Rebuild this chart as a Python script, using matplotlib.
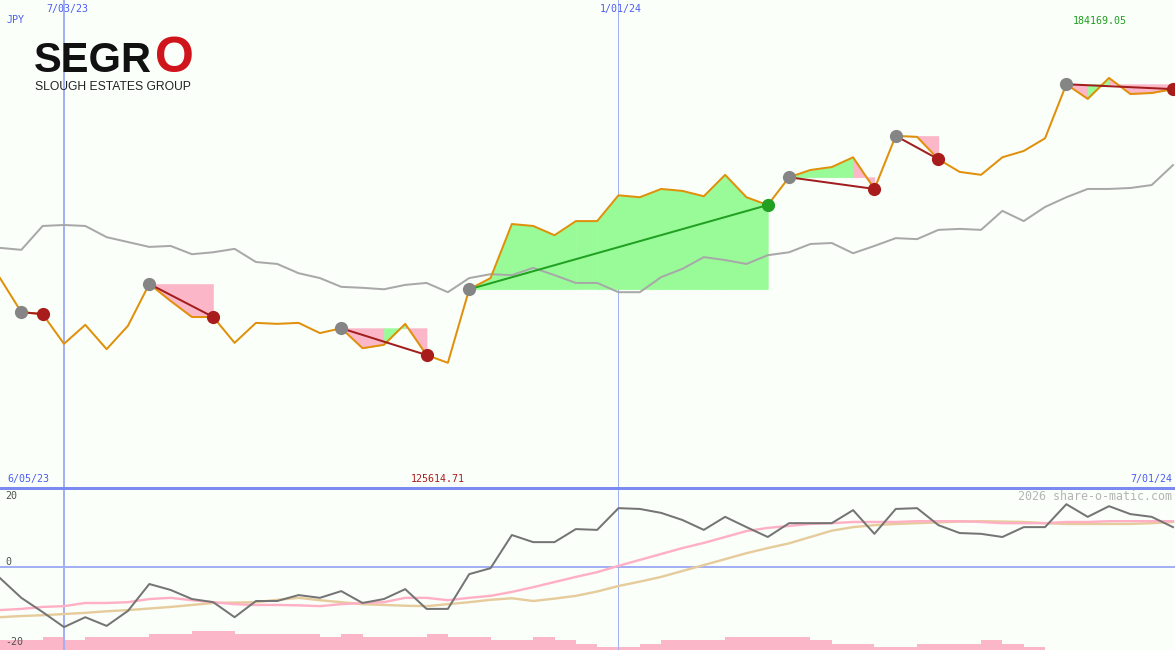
"""
SEGRO (JPY) weekly chart with trade overlay and momentum panel, share-o-matic style.

Output:
    out.png
"""
import matplotlib

matplotlib.use("Agg")
import matplotlib.pyplot as plt
import numpy as np

W, H = 1175, 650
DPI = 100

# weekly closes (thousands JPY) and benchmark on the same scale
price = [142.9, 135.9, 135.5, 129.4, 133.3, 128.3, 133.1, 141.7, 138.2, 134.9,
         134.9, 129.6, 133.7, 133.5, 133.7, 131.6, 132.6, 128.5, 129.2, 133.5,
         127.1, 125.5, 140.6, 142.9, 154.0, 153.6, 151.7, 154.6, 154.6, 159.9,
         159.5, 161.2, 160.8, 159.7, 164.1, 159.5, 157.9, 163.6, 165.1, 165.7,
         167.7, 161.2, 172.1, 171.9, 167.3, 164.7, 164.1, 167.7, 169.0, 171.6,
         182.7, 179.7, 184.0, 180.7, 180.9, 181.7]
bench = [149.1, 148.7, 153.6, 153.8, 153.6, 151.3, 150.3, 149.3, 149.5, 147.8,
         148.2, 148.9, 146.2, 145.8, 143.9, 142.9, 141.1, 140.9, 140.6, 141.5,
         141.9, 140.0, 142.9, 143.7, 143.5, 145.0, 143.5, 141.9, 141.9, 140.0,
         140.0, 143.1, 144.8, 147.2, 146.6, 145.8, 147.6, 148.2, 149.9, 150.1,
         148.0, 149.5, 151.1, 150.9, 152.8, 153.0, 152.8, 156.7, 154.6, 157.5,
         159.5, 161.2, 161.2, 161.4, 162.0, 166.1]

# lower panel: momentum and its two averages
momentum = [-2.8, -7.8, -11.4, -15.2, -12.7, -14.9, -11.1, -4.3, -5.8, -8.1,
            -8.9, -12.7, -8.6, -8.6, -7.1, -7.8, -6.1, -9.1, -8.1, -5.6,
            -10.6, -10.6, -1.8, -0.3, 8.1, 6.3, 6.3, 9.6, 9.4, 14.9,
            14.7, 13.7, 11.9, 9.4, 12.7, 10.1, 7.6, 11.1, 11.1, 11.1,
            14.4, 8.4, 14.7, 14.9, 10.6, 8.6, 8.4, 7.6, 10.1, 10.1,
            15.9, 12.7, 15.4, 13.4, 12.7, 10.1]
ma_fast = [-10.9, -10.6, -10.1, -9.9, -9.1, -9.1, -8.9, -8.1, -7.8, -8.4,
           -8.9, -9.4, -9.6, -9.6, -9.7, -9.9, -9.4, -9.1, -8.9, -7.8,
           -7.8, -8.4, -7.8, -7.3, -6.3, -5.1, -3.8, -2.5, -1.3, 0.3,
           1.8, 3.3, 4.8, 6.1, 7.6, 9.1, 9.9, 10.4, 10.9, 11.1,
           11.4, 11.4, 11.4, 11.6, 11.6, 11.6, 11.4, 11.1, 11.1, 11.1,
           11.4, 11.4, 11.6, 11.6, 11.6, 11.6]
ma_slow = [-12.7, -12.4, -12.2, -11.9, -11.6, -11.2, -10.9, -10.5, -10.1, -9.6,
           -9.1, -9.0, -8.9, -8.3, -7.8, -8.4, -8.9, -9.4, -9.6, -9.8,
           -9.9, -9.4, -8.9, -8.3, -7.9, -8.6, -8.0, -7.3, -6.2, -4.8,
           -3.7, -2.5, -1.0, 0.5, 2.0, 3.5, 4.8, 6.0, 7.6, 9.2,
           10.1, 10.6, 10.9, 11.1, 11.3, 11.5, 11.6, 11.5, 11.4, 11.1,
           10.9, 10.9, 10.9, 10.9, 11.1, 11.4]
volume_level = [3, 3, 4, 3, 4, 4, 4, 5, 5, 6, 6, 5, 5, 5, 5, 4, 5, 4, 4, 4,
                5, 4, 4, 3, 3, 4, 3, 2, 1, 1, 2, 3, 3, 3, 4, 4, 4, 4, 3, 2,
                2, 1, 1, 2, 2, 2, 3, 2, 1, 0, 0, 0, 0, 0, 0]

trade_entry = [1, 7, 16, 22, 37, 42, 50]
trade_exit = [2, 10, 20, 36, 41, 44, 55]

date_marks = [3, 29]
date_mark_labels = ["7/03/23", "1/01/24"]
date_start, date_end = "6/05/23", "7/01/24"
price_hi, price_lo = "184169.05", "125614.71"

BG = "#fafffa"
C_PRICE = "#e0900a"
C_BENCH = "#a8a8a8"
C_MOM = "#747474"
C_FAST = "#ffb0c4"
C_SLOW = "#e6cc9c"
C_WIN = "#98fb98"
C_LOSS = "#fbb6c8"
C_GRID = "#a4b0f4"
C_DIV = "#7a8af0"
C_BLUE = "#4c5cf0"
PX = 72 / DPI  # one pixel in points


def px_text(fig, x, y, s, color, size=7.2, ha="left", va="center", **kw):
    kw.setdefault("family", "DejaVu Sans Mono")
    fig.text(x / W, 1 - y / H, s, color=color, fontsize=size,
             ha=ha, va=va, **kw)


def main():
    fig = plt.figure(figsize=(W / DPI, H / DPI), dpi=DPI, facecolor=BG)
    top_h = 487 / H
    ax = fig.add_axes([0, 1 - top_h, 1, top_h])
    ax2 = fig.add_axes([0, 0, 1, 162 / H])

    x = np.arange(len(price))
    p = np.array(price)
    xmax = W / (1173 / (len(price) - 1))

    for a in (ax, ax2):
        a.set_facecolor(BG)
        a.set_xlim(0, xmax)
        a.set_xticks([])
        a.set_yticks([])
        for sp in a.spines.values():
            sp.set_visible(False)

    ax.set_ylim(100, 200)
    ax2.set_ylim(-21.0, 20.0)

    widths = [2, 1]
    for d, w in zip(date_marks, widths):
        ax.axvline(d, color=C_GRID, lw=w * PX, zorder=0)
        ax2.axvline(d, color=C_GRID, lw=w * PX, zorder=0)

    # trade shading: per-week segment, green when the week closes above entry
    for e, q in zip(trade_entry, trade_exit):
        for i in range(e, q):
            col = C_WIN if p[i + 1] > p[e] else C_LOSS
            ax.fill_between(x[i:i + 2], p[e], p[i:i + 2], facecolor=col,
                            edgecolor=col, lw=0.4, zorder=1)

    ax.plot(x, bench, color=C_BENCH, lw=2 * PX, zorder=2)
    ax.plot(x, p, color=C_PRICE, lw=2 * PX, zorder=3)

    for e, q in zip(trade_entry, trade_exit):
        win = p[q] > p[e]
        ax.plot([e, q], [p[e], p[q]], color="#22a022" if win else "#a21e1e",
                lw=2 * PX, zorder=4)
        ax.plot(e, p[e], "o", color="#858585", ms=9.5, mew=0, zorder=5)
        ax.plot(q, p[q], "o", color="#22a022" if win else "#a81c1c",
                ms=9.5, mew=0, zorder=5)

    # lower panel
    axv = ax2.twinx()
    axv.set_ylim(0, 50)
    axv.set_yticks([])
    for sp in axv.spines.values():
        sp.set_visible(False)
    axv.bar(np.arange(len(volume_level)), volume_level, width=1.0,
            align="edge", color=C_LOSS, lw=0)
    ax2.set_zorder(axv.get_zorder() + 1)
    ax2.patch.set_visible(False)
    axv.set_facecolor(BG)

    ax2.axhline(0, color=C_GRID, lw=2 * PX, zorder=1)
    ax2.plot(x, ma_slow, color=C_SLOW, lw=2.4 * PX, zorder=2)
    ax2.plot(x, ma_fast, color=C_FAST, lw=2.4 * PX, zorder=3)
    ax2.plot(x, momentum, color=C_MOM, lw=2 * PX, zorder=4)

    ax2.spines["top"].set_visible(True)
    ax2.spines["top"].set_color(C_DIV)
    ax2.spines["top"].set_linewidth(3 * PX)

    # labels
    px_text(fig, 7, 20, "JPY", C_BLUE)
    px_text(fig, 67, 9, date_mark_labels[0], C_BLUE, ha="center")
    px_text(fig, 621, 9, date_mark_labels[1], C_BLUE, ha="center")
    px_text(fig, 1073, 21, price_hi, "#1e9e1e")
    px_text(fig, 7, 479, date_start, C_BLUE)
    px_text(fig, 411, 479, price_lo, "#a81c1c")
    px_text(fig, 1172, 479, date_end, C_BLUE, ha="right")
    px_text(fig, 1172, 496, "2026 share-o-matic.com", "#b4b4b4",
            size=8.4, ha="right")
    px_text(fig, 5, 496, "20", "#505050")
    px_text(fig, 5, 562, "0", "#505050")
    px_text(fig, 5, 642, "-20", "#505050")

    # logo
    px_text(fig, 34, 72, "SEGR", "#111111", size=30, va="baseline",
            family="Liberation Sans", weight="bold")
    px_text(fig, 155, 72, "O", "#d0141c", size=36, va="baseline",
            family="Liberation Sans", weight="bold")
    px_text(fig, 35, 90.5, "SLOUGH ESTATES GROUP", "#222222", size=8.7,
            va="baseline", family="Liberation Sans")

    fig.savefig("out.png", dpi=DPI, facecolor=BG)
    plt.close(fig)


if __name__ == "__main__":
    main()
